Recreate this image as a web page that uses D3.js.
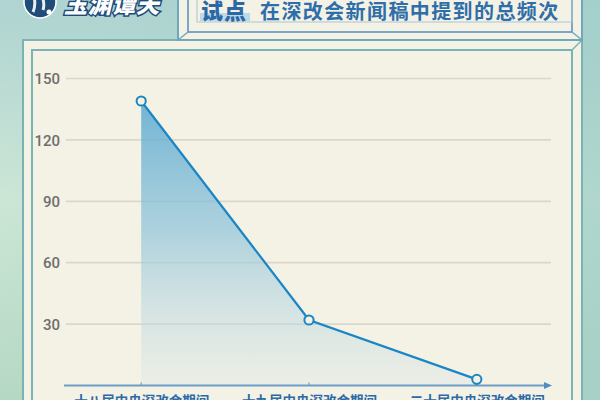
<!DOCTYPE html>
<html><head><meta charset="utf-8">
<script src="https://cdn.jsdelivr.net/npm/d3@7"></script>
<style>html,body{margin:0;padding:0;background:#bcdcd3;}svg{display:block;}</style>
</head><body><svg id="c" width="600" height="400"></svg>
<script>
const categories = ["十八届中央深改会期间", "十九届中央深改会期间", "二十届中央深改会期间"];
const values = [139, 32, 3];
const yTicks = [30, 60, 90, 120, 150];
const titleKey = "试点";
const titleRest = "在深改会新闻稿中提到的总频次";
const logoText = "玉渊谭天";

const svg = d3.select("#c");
const defs = svg.append("defs");

const bg = defs.append("linearGradient").attr("id","bg").attr("x1",0).attr("y1",0).attr("x2",0).attr("y2",1);
bg.append("stop").attr("offset","0%").attr("stop-color","#afd4d2");
bg.append("stop").attr("offset","50%").attr("stop-color","#cce6d6");
bg.append("stop").attr("offset","100%").attr("stop-color","#b5d8c4");
const bgh = defs.append("linearGradient").attr("id","bgh").attr("x1",0).attr("y1",0).attr("x2",1).attr("y2",0);
bgh.append("stop").attr("offset","0%").attr("stop-color","#9ccbc6").attr("stop-opacity",0);
bgh.append("stop").attr("offset","100%").attr("stop-color","#9ccbc6").attr("stop-opacity",0.6);

svg.append("rect").attr("width",600).attr("height",400).attr("fill","url(#bg)");
svg.append("rect").attr("width",600).attr("height",400).attr("fill","url(#bgh)");

// logo
svg.append("circle").attr("cx",40).attr("cy",2).attr("r",16).attr("fill","#1f4c79").attr("stroke","#ffffff").attr("stroke-width",1.5);
svg.append("path").attr("d","M34,-4 q2,10 -1,16 M42,-4 q3,8 1,14").attr("stroke","#e8eef4").attr("stroke-width",3).attr("fill","none");
svg.append("circle").attr("cx",49).attr("cy",12).attr("r",2.5).attr("fill","#ffffff");
svg.append("text").attr("x",64).attr("y",13).text(logoText)
  .attr("font-family","'Noto Sans CJK SC'").attr("font-weight",900).attr("font-size",23).attr("font-style","italic")
  .attr("fill","#ffffff").attr("stroke","#1f4c79").attr("stroke-width",3).attr("paint-order","stroke").attr("letter-spacing",1);

// main panel
const panelFill = "#f4f1e5";
svg.append("rect").attr("x",23).attr("y",40).attr("width",559).attr("height",380).attr("fill",panelFill).attr("stroke","#79b3b6").attr("stroke-width",2);
svg.append("rect").attr("x",32).attr("y",50).attr("width",540).attr("height",370).attr("fill",panelFill).attr("stroke","#79b3b6").attr("stroke-width",2);
svg.append("line").attr("x1",582).attr("y1",40).attr("x2",572).attr("y2",50).attr("stroke","#79b3b6").attr("stroke-width",1.5);

// title box
svg.append("rect").attr("x",178).attr("y",-10).attr("width",404).attr("height",50).attr("fill",panelFill).attr("stroke","#6fa7bd").attr("stroke-width",2);
svg.append("rect").attr("x",188).attr("y",-10).attr("width",384).attr("height",42).attr("fill",panelFill).attr("stroke","#6d9fc4").attr("stroke-width",1.8);
svg.append("rect").attr("x",197).attr("y",-10).attr("width",375).attr("height",32).attr("fill","none").attr("stroke","#a8c6d8").attr("stroke-width",1);
svg.append("line").attr("x1",178).attr("y1",40).attr("x2",188).attr("y2",32).attr("stroke","#6fa7bd").attr("stroke-width",1.5);
svg.append("line").attr("x1",582).attr("y1",40).attr("x2",572).attr("y2",32).attr("stroke","#6fa7bd").attr("stroke-width",1.5);

svg.append("rect").attr("x",200).attr("y",13).attr("width",50).attr("height",8).attr("fill","#bcd9ea");
svg.append("text").attr("x",201).attr("y",19).text(titleKey)
  .attr("font-family","'Noto Sans CJK SC'").attr("font-weight",900).attr("font-size",22).attr("fill","#2b68a5").attr("letter-spacing",1);
svg.append("text").attr("x",260).attr("y",19).text(titleRest)
  .attr("font-family","'Noto Sans CJK SC'").attr("font-weight",700).attr("font-size",20).attr("fill","#2e6eaa").attr("letter-spacing",1.4);

// scales
const x = d3.scalePoint().domain(categories).range([64, 554]).padding(0.46);
const y = d3.scaleLinear().domain([0,150]).range([385.5, 78.5]);

// grid
svg.append("g").selectAll("line").data(yTicks).join("line")
  .attr("x1",66).attr("x2",551).attr("y1",d=>y(d)).attr("y2",d=>y(d))
  .attr("stroke","#dbd7ca").attr("stroke-width",1.7);

// y axis labels
const yAxis = d3.axisLeft(y).tickValues(yTicks).tickSize(0).tickPadding(0);
const gy = svg.append("g").attr("transform","translate(60,0)").call(yAxis);
gy.select(".domain").remove();
gy.selectAll("text").attr("font-family","Roboto").attr("font-weight",500).attr("font-size",15).attr("fill","#6e6e6e").attr("dy","0.35em");

// area gradient
const ag = defs.append("linearGradient").attr("id","ag").attr("gradientUnits","userSpaceOnUse")
  .attr("x1",0).attr("y1",y(d3.max(values))).attr("x2",0).attr("y2",y(0));
ag.append("stop").attr("offset","0%").attr("stop-color","#5aa9d1").attr("stop-opacity",0.85);
ag.append("stop").attr("offset","45%").attr("stop-color","#8ec3da").attr("stop-opacity",0.7);
ag.append("stop").attr("offset","100%").attr("stop-color","#d6e6e6").attr("stop-opacity",0.3);

const data = categories.map((c,i)=>({c, v: values[i]}));
svg.append("path").datum(data)
  .attr("d", d3.area().x(d=>x(d.c)).y0(y(0)).y1(d=>y(d.v)))
  .attr("fill","url(#ag)");

// x axis
const xAxis = d3.axisBottom(x).tickSize(0).tickPadding(0);
const gx = svg.append("g").attr("transform",`translate(0,${y(0)})`).call(xAxis);
gx.select(".domain").remove();
gx.selectAll("text").attr("font-family","'Noto Sans CJK SC'").attr("font-weight",700).attr("font-size",13.5).attr("fill","#2d6aa8").attr("dy","1.5em");
svg.append("line").attr("x1",64).attr("x2",546).attr("y1",y(0)).attr("y2",y(0)).attr("stroke","#6d9dc9").attr("stroke-width",2);
svg.append("path").attr("d",`M544,${y(0)-3.5}L552,${y(0)}L544,${y(0)+3.5}Z`).attr("fill","#4f8cc4");
svg.append("g").selectAll("line").data(categories).join("line")
  .attr("x1",d=>x(d)).attr("x2",d=>x(d)).attr("y1",y(0)-3).attr("y2",y(0))
  .attr("stroke","#6d9dc9").attr("stroke-width",1.2);

// line + points
svg.append("path").datum(data)
  .attr("d", d3.line().x(d=>x(d.c)).y(d=>y(d.v)))
  .attr("fill","none").attr("stroke","#1b86c5").attr("stroke-width",2.2);
svg.append("g").selectAll("circle").data(data).join("circle")
  .attr("cx",d=>x(d.c)).attr("cy",d=>y(d.v)).attr("r",4.6)
  .attr("fill",panelFill).attr("stroke","#1b86c5").attr("stroke-width",2);
</script></body></html>
